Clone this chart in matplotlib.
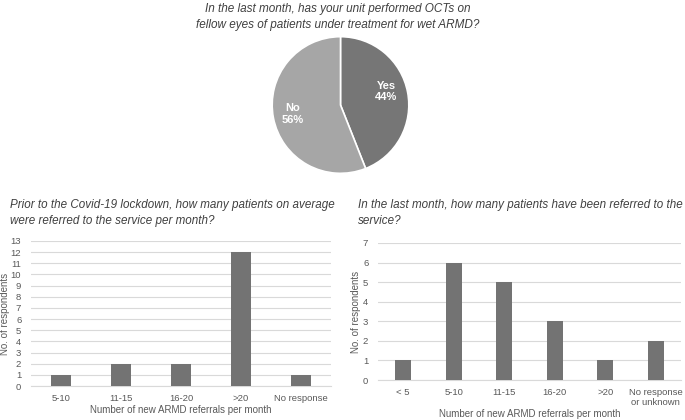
import matplotlib.pyplot as plt

plt.rcParams['font.family'] = ['Liberation Sans', 'DejaVu Sans']

# pie: OCTs on fellow eyes
pie_labels = ['Yes', 'No']
pie_values = [44, 56]

# left: referrals before lockdown
cats_before = ['5-10', '11-15', '16-20', '>20', 'No response']
vals_before = [1, 2, 2, 12, 1]

# right: referrals last month
cats_last = ['< 5', '5-10', '11-15', '16-20', '>20', 'No response\nor unknown']
vals_last = [1, 6, 5, 3, 1, 2]

W, H = 685, 420
title_col = '#404040'
tick_col = '#595959'
grid_col = '#d9d9d9'
bar_col = '#737373'

fig = plt.figure(figsize=(W / 100, H / 100), dpi=100)


def box(x0, y0, x1, y1):
    # pixel box (top-left origin) -> figure fraction
    return [x0 / W, 1 - y1 / H, (x1 - x0) / W, (y1 - y0) / H]


# ---- pie
ax_p = fig.add_axes(box(271.5, 36, 409.5, 174))
lbls = [f'{l}\n{v}%' for l, v in zip(pie_labels, pie_values)]
wedges, texts = ax_p.pie(pie_values, labels=lbls, colors=['#767676', '#a6a6a6'],
                         startangle=90, counterclock=False, radius=1,
                         labeldistance=0.72,
                         wedgeprops=dict(edgecolor='white', linewidth=1.2),
                         textprops=dict(color='white', fontweight='bold', fontsize=8,
                                        ha='center', va='center'))
for t in texts:
    t.set_ha('center')
texts[0].set_position((texts[0].get_position()[0] - 0.04, texts[0].get_position()[1] + 0.06))
ax_p.set_xlim(-1.01, 1.01)
ax_p.set_ylim(-1.01, 1.01)
fig.text(338 / W, 1 - 17 / H,
         'In the last month, has your unit performed OCTs on\nfellow eyes of patients under treatment for wet ARMD?',
         ha='center', va='center', fontsize=8.5, style='italic', color=title_col,
         linespacing=1.35)


def bar_panel(rect, cats, vals, ymax, title, tx, ty, ylab_x, xlab_y):
    ax = fig.add_axes(rect)
    x = range(len(cats))
    ax.bar(x, vals, width=0.32, color=bar_col, zorder=3)
    ax.set_xlim(-0.5, len(cats) - 0.5)
    ax.set_ylim(0, ymax)
    ax.set_yticks(range(0, ymax + 1))
    ax.set_xticks(list(x))
    ax.set_xticklabels(cats, linespacing=1.1)
    ax.grid(axis='y', color=grid_col, linewidth=0.8, zorder=0)
    for s in ['top', 'right', 'left']:
        ax.spines[s].set_visible(False)
    ax.spines['bottom'].set_color(grid_col)
    ax.spines['bottom'].set_linewidth(0.8)
    ax.tick_params(length=0, labelsize=6.8, labelcolor=tick_col)
    ax.tick_params(axis='y', pad=7)
    ax.tick_params(axis='x', pad=6)
    fig.text(tx / W, 1 - ty / H, title, ha='left', va='center', fontsize=8.4,
             style='italic', color=title_col, linespacing=1.35)
    fig.text(ylab_x / W, rect[1] + rect[3] / 2,
             'No. of respondents', rotation=90, ha='center', va='center',
             fontsize=7, color=tick_col)
    fig.text(rect[0] + rect[2] / 2, 1 - xlab_y / H, 'Number of new ARMD referrals per month',
             ha='center', va='center', fontsize=7, color=tick_col)
    return ax


bar_panel(box(31, 241, 331, 386), cats_before, vals_before, 13,
          'Prior to the Covid-19 lockdown, how many patients on average\nwere referred to the service per month?',
          10, 213, 5, 410)
bar_panel(box(378, 243, 681, 380), cats_last, vals_last, 7,
          'In the last month, how many patients have been referred to the\nservice?',
          358, 213, 356, 414)

fig.savefig('out.png', dpi=100)
